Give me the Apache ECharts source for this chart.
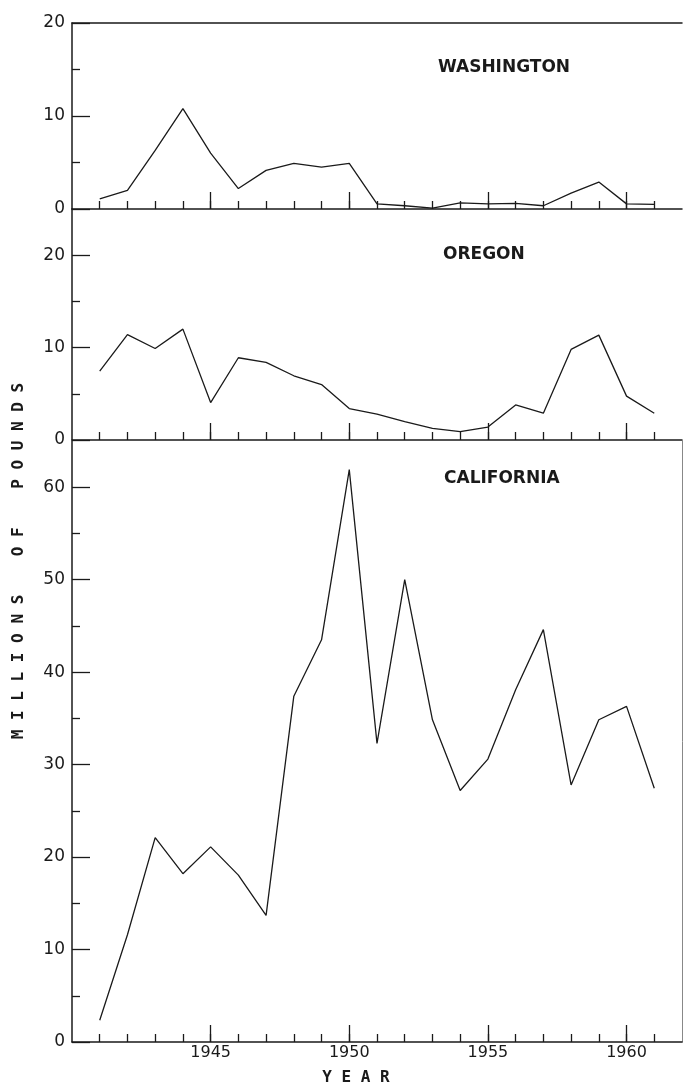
<!DOCTYPE html>
<html>
<head>
<meta charset="utf-8">
<script src="https://cdn.jsdelivr.net/npm/echarts@6/dist/echarts.min.js"></script>
<style>
  html, body { margin: 0; padding: 0; background: #fff; }
  #chart { width: 683px; height: 1088px; }
</style>
</head>
<body>
<div id="chart"></div>
<script>
// Annual landings, millions of pounds
const years = [1941, 1942, 1943, 1944, 1945, 1946, 1947, 1948, 1949, 1950, 1951,
               1952, 1953, 1954, 1955, 1956, 1957, 1958, 1959, 1960, 1961];
const washington = [1.1, 2.0, 6.3, 10.8, 6.0, 2.2, 4.15, 4.9, 4.5, 4.9, 0.55,
                    0.35, 0.1, 0.65, 0.55, 0.6, 0.35, 1.7, 2.9, 0.55, 0.5];
const oregon = [7.45, 11.4, 9.9, 12.0, 4.05, 8.9, 8.4, 6.95, 6.0, 3.4, 2.8,
                2.0, 1.25, 0.9, 1.4, 3.8, 2.9, 9.8, 11.35, 4.75, 2.9];
const california = [2.35, 11.6, 22.1, 18.2, 21.1, 18.05, 13.7, 37.4, 43.5, 61.9, 32.3,
                    50.0, 34.85, 27.2, 30.6, 38.1, 44.6, 27.8, 34.85, 36.3, 27.45];

// Tick marks and labels
const yearLabels = [1945, 1950, 1955, 1960];
const waMajor = [0, 10, 20], waMinor = [5, 15];
const orMajor = [0, 10, 20], orMinor = [5, 15];
const caMajor = [0, 10, 20, 30, 40, 50, 60], caMinor = [5, 15, 25, 35, 45, 55];

const ink = '#1a1a1a';
const font = 'DejaVu Sans';

const panels = [
  { name: 'WASHINGTON', values: washington, max: 20, major: waMajor, minor: waMinor, top: 23, height: 186, titleX: 438, titleY: 68 },
  { name: 'OREGON', values: oregon, max: 25, major: orMajor, minor: orMinor, top: 209, height: 231, titleX: 443, titleY: 255 },
  { name: 'CALIFORNIA', values: california, max: 65, major: caMajor, minor: caMinor, top: 441, height: 601, titleX: 444, titleY: 479 }
];

const grid = [], xAxis = [], yAxis = [], series = [], graphic = [];

panels.forEach((p, g) => {
  grid.push({ left: 72, right: 1, top: p.top, height: p.height });
  const isBottom = g === panels.length - 1;
  // yearly ticks with the axis line
  xAxis.push({
    type: 'value', gridIndex: g, min: 1940, max: 1962, position: 'bottom',
    axisLine: { show: true, onZero: false, lineStyle: { color: ink, width: 1.5 } },
    axisTick: { show: true, inside: true, length: 8, customValues: years, lineStyle: { color: ink, width: 1.3 } },
    axisLabel: { show: false },
    splitLine: { show: false }
  });
  // five-year ticks and labels
  xAxis.push({
    type: 'value', gridIndex: g, min: 1940, max: 1962, position: 'bottom',
    axisLine: { show: false },
    axisTick: { show: true, inside: true, length: 17, customValues: yearLabels, lineStyle: { color: ink, width: 1.3 } },
    axisLabel: {
      show: isBottom, customValues: yearLabels, margin: 3,
      formatter: v => String(v),
      fontFamily: font, fontSize: 16, color: ink
    },
    splitLine: { show: false }
  });
  // minor value ticks with the axis line
  yAxis.push({
    type: 'value', gridIndex: g, min: 0, max: p.max, position: 'left',
    axisLine: { show: true, onZero: false, lineStyle: { color: ink, width: 1.5 } },
    axisTick: { show: true, inside: true, length: 8, customValues: p.minor, lineStyle: { color: ink, width: 1.3 } },
    axisLabel: { show: false },
    splitLine: { show: false }
  });
  // major value ticks and labels
  yAxis.push({
    type: 'value', gridIndex: g, min: 0, max: p.max, position: 'left',
    axisLine: { show: false },
    axisTick: { show: true, inside: true, length: 18, customValues: p.major, lineStyle: { color: ink, width: 1.3 } },
    axisLabel: {
      show: true, customValues: p.major, margin: 7,
      formatter: v => String(v),
      fontFamily: font, fontSize: 17, color: ink,
      verticalAlign: 'middle', padding: [0, 0, 10, 0]
    },
    splitLine: { show: false }
  });
  series.push({
    type: 'line', xAxisIndex: 2 * g, yAxisIndex: 2 * g,
    data: years.map((y, i) => [y, p.values[i]]),
    symbol: 'none', silent: true,
    lineStyle: { color: ink, width: 1.3 }
  });
  graphic.push({
    type: 'text', left: p.titleX, top: p.titleY - 9,
    style: { text: p.name, font: 'bold 17px "DejaVu Sans"', fill: ink }
  });
});

// top border of the upper panel
xAxis.push({
  type: 'value', gridIndex: 0, min: 1940, max: 1962, position: 'top',
  axisLine: { show: true, onZero: false, lineStyle: { color: ink, width: 1.5 } },
  axisTick: { show: false }, axisLabel: { show: false }, splitLine: { show: false }
});
// right edge of the lower panel
yAxis.push({
  type: 'value', gridIndex: 2, min: 0, max: 65, position: 'right',
  axisLine: { show: true, onZero: false, lineStyle: { color: '#888', width: 1 } },
  axisTick: { show: false }, axisLabel: { show: false }, splitLine: { show: false }
});

graphic.push({
  type: 'text', x: 19, y: 561, rotation: Math.PI / 2,
  style: {
    text: 'M I L L I O N S    O F    P O U N D S',
    font: 'bold 16px "DejaVu Sans Mono"', fill: ink,
    align: 'center', verticalAlign: 'middle'
  }
});
graphic.push({
  type: 'text', x: 356, y: 1078,
  style: {
    text: 'Y E A R',
    font: 'bold 16px "DejaVu Sans Mono"', fill: ink,
    align: 'center', verticalAlign: 'middle'
  }
});

const chart = echarts.init(document.getElementById('chart'), null, { renderer: 'canvas' });
chart.setOption({
  animation: false,
  backgroundColor: '#fff',
  grid, xAxis, yAxis, series, graphic
});
</script>
</body>
</html>
